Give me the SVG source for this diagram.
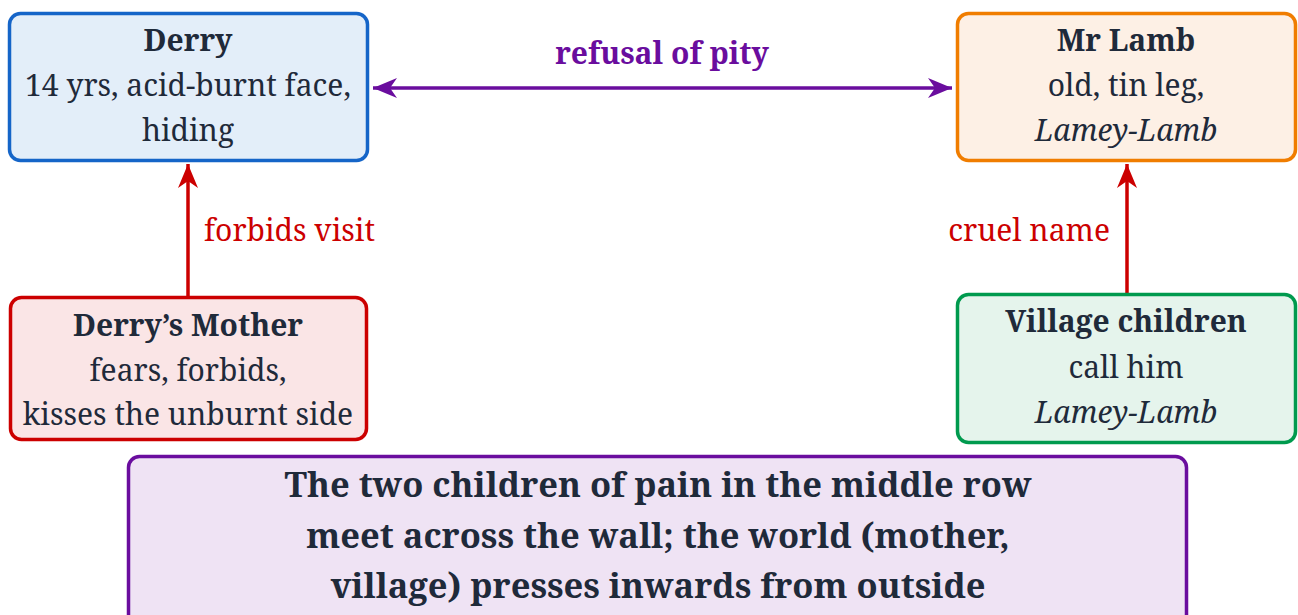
<svg xmlns="http://www.w3.org/2000/svg" width="1298" height="615" viewBox="0 0 1298 615">
<defs>
<style>
text{font-family:"Noto Serif","DejaVu Serif","Liberation Serif",serif;fill:#1f2a3a;text-anchor:middle;font-size:30px}
.b{font-weight:bold}
.i{font-style:italic}
.box{stroke-width:3.5}
.lbl-r{fill:#cc0000}
.lbl-p{fill:#6a0d9e;font-weight:bold}
.big{font-size:34.5px;font-weight:bold}
</style>
<marker id="ap" viewBox="-24 -11 26 22" refX="0" refY="0" markerWidth="26" markerHeight="22" markerUnits="userSpaceOnUse" orient="auto-start-reverse">
<path d="M0,0 L-24,-10 L-17,0 L-24,10 Z" fill="#6a0d9e"/>
</marker>
<marker id="ar" viewBox="-24 -11 26 22" refX="0" refY="0" markerWidth="26" markerHeight="22" markerUnits="userSpaceOnUse" orient="auto">
<path d="M0,0 L-24,-10 L-17,0 L-24,10 Z" fill="#cc0000"/>
</marker>
</defs>
<rect width="1298" height="615" fill="#ffffff"/>
<g id="connectors">
<line x1="373" y1="88" x2="952" y2="88" stroke="#6a0d9e" stroke-width="3.5" marker-start="url(#ap)" marker-end="url(#ap)"/>
<text class="lbl-p" x="662" y="64">refusal of pity</text>
<line x1="188" y1="296" x2="188" y2="164" stroke="#cc0000" stroke-width="3.5" marker-end="url(#ar)"/>
<text class="lbl-r" x="204" y="241" style="text-anchor:start">forbids visit</text>
<line x1="1127" y1="293" x2="1127" y2="164" stroke="#cc0000" stroke-width="3.5" marker-end="url(#ar)"/>
<text class="lbl-r" x="1110" y="241" style="text-anchor:end">cruel name</text>
</g>
<g id="derry">
<rect class="box" x="9.5" y="13.5" width="358" height="147" rx="11" fill="#e3eef9" stroke="#1565c8"/>
<text class="b" x="188" y="51">Derry</text>
<text x="188" y="96">14 yrs, acid-burnt face,</text>
<text x="188" y="141">hiding</text>
</g>
<g id="mrlamb">
<rect class="box" x="957.5" y="13.5" width="338" height="147" rx="11" fill="#fdf0e5" stroke="#f07d00"/>
<text class="b" x="1126" y="51">Mr Lamb</text>
<text x="1126" y="96">old, tin leg,</text>
<text class="i" x="1126" y="141">Lamey-Lamb</text>
</g>
<g id="mother">
<rect class="box" x="10.5" y="297.5" width="356" height="142" rx="11" fill="#fae5e6" stroke="#cc0000"/>
<text class="b" x="188" y="336">Derry’s Mother</text>
<text x="188" y="381">fears, forbids,</text>
<text x="188" y="425">kisses the unburnt side</text>
</g>
<g id="village">
<rect class="box" x="957.5" y="294.5" width="338" height="148" rx="11" fill="#e5f4ec" stroke="#009a4e"/>
<text class="b" x="1126" y="332">Village children</text>
<text x="1126" y="378">call him</text>
<text class="i" x="1126" y="423">Lamey-Lamb</text>
</g>
<g id="summary">
<rect class="box" x="128.5" y="456.5" width="1058" height="175" rx="11" fill="#efe3f4" stroke="#6a0d9e"/>
<text class="big" x="658" y="497">The two children of pain in the middle row</text>
<text class="big" x="658" y="548">meet across the wall; the world (mother,</text>
<text class="big" x="658" y="598">village) presses inwards from outside</text>
</g>
</svg>
